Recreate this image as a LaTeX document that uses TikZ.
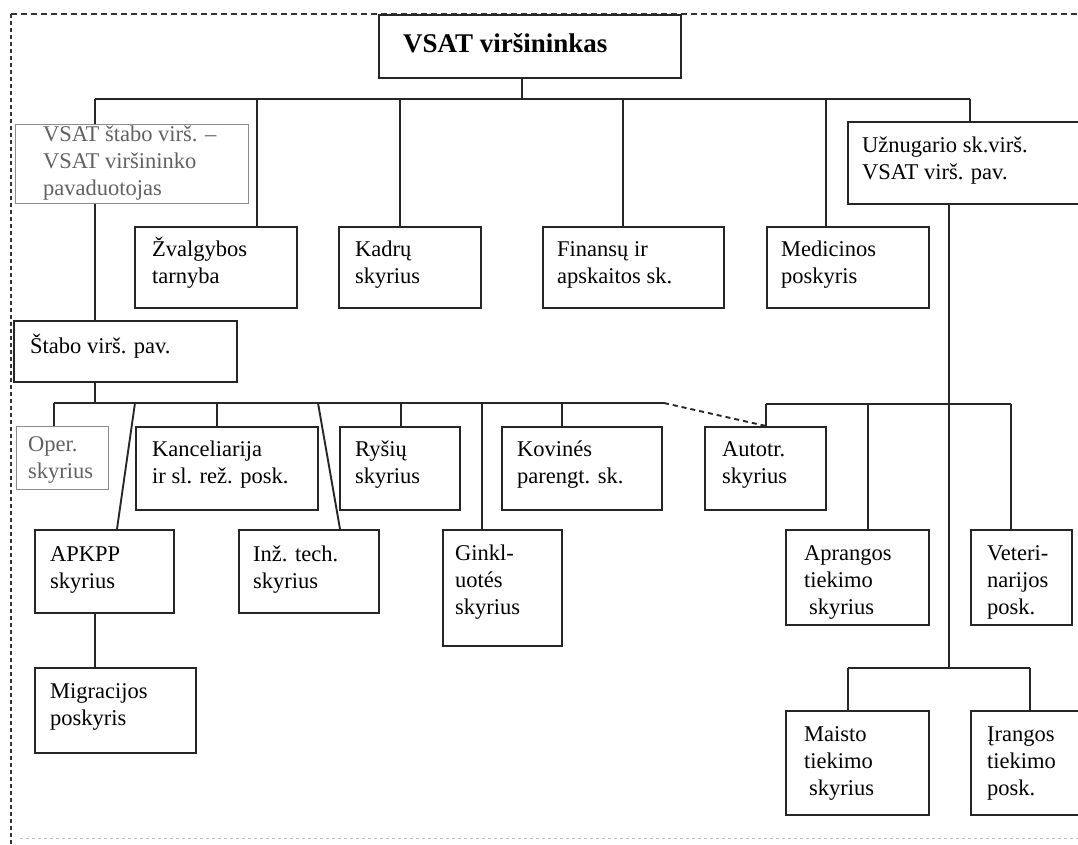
\documentclass[tikz,border=0pt]{standalone}
\usepackage{fontspec}
\setmainfont{Liberation Serif}
\usetikzlibrary{calc}
\tikzset{
 box/.style={draw=black!85, line width=2.2pt, inner sep=0pt, anchor=north west},
 gbox/.style={box, draw=black!45, line width=1.4pt},
 txt/.style={inner sep=0pt, anchor=north west, align=left, font=\fontsize{22.5}{27}\selectfont, text=black},
 gtxt/.style={txt, text=black!62},
 con/.style={line width=1.9pt, draw=black!85},
 dcon/.style={con, dash pattern=on 5pt off 4pt},
}
\begin{document}
\begin{tikzpicture}[x=1pt,y=-1pt]
\path[use as bounding box] (0,0) rectangle (1078,845);
\clip (0,0) rectangle (1078,845);
% outer dashed frame
\coordinate (fr-tl) at (11,14);
\coordinate (fr-tr) at (1078,14);
\coordinate (fr-bl) at (11,845);
\coordinate (fr-bb) at (20,838);
\coordinate (fr-br) at (1078,838);
\draw[line width=2.8pt, black!80, dash pattern=on 4pt off 3pt] (fr-tl) -- (fr-bl);
\draw[line width=1.6pt, black!80, dash pattern=on 6pt off 4pt] (fr-tl) -- (fr-tr);
\draw[line width=1pt, black!25, dash pattern=on 3pt off 3pt] (fr-bb) -- (fr-br);

% boxes
\node[box, minimum width=302pt, minimum height=63pt] (top) at (378,14) {};
\node[inner sep=0pt, anchor=north west, font=\fontsize{27}{32}\selectfont\bfseries] (top-t) at (403,29.6) {\strut VSAT viršininkas};

\node[gbox, minimum width=233pt, minimum height=79pt] (stab) at (15,124) {};
\node[gtxt] (stab-t) at (43,122) {\strut VSAT štabo virš. –\\VSAT viršininko\\pavaduotojas};

\node[box, minimum width=162pt, minimum height=81pt] (zv) at (134,226) {};
\node[txt] (zv-t) at (152,237) {\strut Žvalgybos\\tarnyba};
\node[box, minimum width=142pt, minimum height=81pt] (kad) at (338,226) {};
\node[txt] (kad-t) at (355,237) {\strut Kadrų\\skyrius};
\node[box, minimum width=181pt, minimum height=81pt] (fin) at (542,226) {};
\node[txt] (fin-t) at (557,237) {\strut Finansų ir\\apskaitos sk.};
\node[box, minimum width=162pt, minimum height=81pt] (med) at (766,226) {};
\node[txt] (med-t) at (781,237) {\strut Medicinos\\poskyris};
\node[box, minimum width=250pt, minimum height=82pt] (uzn) at (847,121) {};
\node[txt] (uzn-t) at (862,133) {\strut Užnugario sk.virš.\\VSAT virš. pav.};

\node[box, minimum width=223pt, minimum height=61pt] (stp) at (13,320) {};
\node[txt] (stp-t) at (30,334) {\strut Štabo virš. pav.};

\node[gbox, minimum width=92pt, minimum height=63pt] (oper) at (16,426) {};
\node[gtxt] (oper-t) at (28,432) {\strut Oper.\\skyrius};
\node[box, minimum width=182pt, minimum height=83pt] (kanc) at (135,426) {};
\node[txt] (kanc-t) at (152,437) {\strut Kanceliarija\\ir sl. rež. posk.};
\node[box, minimum width=120pt, minimum height=83pt] (rys) at (339,426) {};
\node[txt] (rys-t) at (355,437) {\strut Ryšių\\skyrius};
\node[box, minimum width=160pt, minimum height=83pt] (kov) at (501,426) {};
\node[txt] (kov-t) at (517,437) {\strut Kovinés\\parengt. sk.};
\node[box, minimum width=121pt, minimum height=83pt] (auto) at (704,426) {};
\node[txt] (auto-t) at (722,437) {\strut Autotr.\\skyrius};

\node[box, minimum width=139pt, minimum height=83pt] (apkpp) at (34,529) {};
\node[txt] (apkpp-t) at (50,542) {\strut APKPP\\skyrius};
\node[box, minimum width=140pt, minimum height=83pt] (inz) at (238,529) {};
\node[txt] (inz-t) at (253,542) {\strut Inž. tech.\\skyrius};
\node[box, minimum width=119pt, minimum height=116pt] (gink) at (442,529) {};
\node[txt] (gink-t) at (455,541) {\strut Ginkl-\\uotés\\skyrius};
\node[box, minimum width=143pt, minimum height=95pt] (apr) at (785,529) {};
\node[txt] (apr-t) at (804,541) {\strut Aprangos\\tiekimo\\\hspace{5pt}skyrius};
\node[box, minimum width=101pt, minimum height=95pt] (vet) at (970,529) {};
\node[txt] (vet-t) at (987,541) {\strut Veteri-\\narijos\\posk.};

\node[box, minimum width=161pt, minimum height=85pt] (mig) at (34,667) {};
\node[txt] (mig-t) at (50,679) {\strut Migracijos\\poskyris};
\node[box, minimum width=143pt, minimum height=104pt] (mais) at (785,710) {};
\node[txt] (mais-t) at (804,722) {\strut Maisto\\tiekimo\\\hspace{5pt}skyrius};
\node[box, minimum width=130pt, minimum height=104pt] (iran) at (970,710) {};
\node[txt] (iran-t) at (987,722) {\strut Įrangos\\tiekimo\\posk.};

% level 1 connectors
\coordinate (s0) at (522,99);
\coordinate (b1l) at (95,99);
\coordinate (b1r) at (970,99);
\coordinate (d-zv) at (257,99);
\coordinate (d-kad) at (400,99);
\coordinate (d-fin) at (623,99);
\coordinate (d-med) at (826,99);
\draw[con] (s0 |- top.south) -- (s0);
\draw[con] (b1l) -- (b1r);
\draw[con] (b1l) -- (b1l |- stab.north);
\draw[con] (d-zv) -- (d-zv |- zv.north);
\draw[con] (d-kad) -- (d-kad |- kad.north);
\draw[con] (d-fin) -- (d-fin |- fin.north);
\draw[con] (d-med) -- (d-med |- med.north);
\draw[con] (b1r) -- (b1r |- uzn.north);

% staff branch
\coordinate (s1) at (95,403);
\draw[con] (b1l |- stab.south) -- (b1l |- stp.north);
\draw[con] (s1 |- stp.south) -- (s1);
\coordinate (b2l) at (54,403);
\coordinate (b2r) at (664,403);
\coordinate (d-kanc) at (217,403);
\coordinate (d-rys) at (401,403);
\coordinate (d-gink) at (482,403);
\coordinate (d-kov) at (562,403);
\coordinate (sl1) at (135,403);
\coordinate (sl1b) at (117,529);
\coordinate (sl2) at (318,403);
\coordinate (sl2b) at (340,529);
\draw[con] (b2l) -- (b2r);
\draw[con] (b2l) -- (b2l |- oper.north);
\draw[con] (d-kanc) -- (d-kanc |- kanc.north);
\draw[con] (d-rys) -- (d-rys |- rys.north);
\draw[con] (d-gink) -- (d-gink |- gink.north);
\draw[con] (d-kov) -- (d-kov |- kov.north);
\draw[con] (sl1) -- (sl1b |- apkpp.north);
\draw[con] (sl2) -- (sl2b |- inz.north);
\draw[con] (s1 |- apkpp.south) -- (s1 |- mig.north);

% rear services branch
\coordinate (b3l) at (766,404);
\coordinate (b3r) at (1011,404);
\coordinate (d-apr) at (868,404);
\coordinate (u0) at (949,668);
\draw[dcon] (b2r) -- (b3l |- auto.north);
\draw[con] (b3l) -- (b3r);
\draw[con] (b3l) -- (b3l |- auto.north);
\draw[con] (d-apr) -- (d-apr |- apr.north);
\draw[con] (b3r) -- (b3r |- vet.north);
\draw[con] (u0 |- uzn.south) -- (u0);
\coordinate (b4l) at (848,668);
\coordinate (b4r) at (1030,668);
\draw[con] (b4l) -- (b4r);
\draw[con] (b4l) -- (b4l |- mais.north);
\draw[con] (b4r) -- (b4r |- iran.north);
\end{tikzpicture}
\end{document}
